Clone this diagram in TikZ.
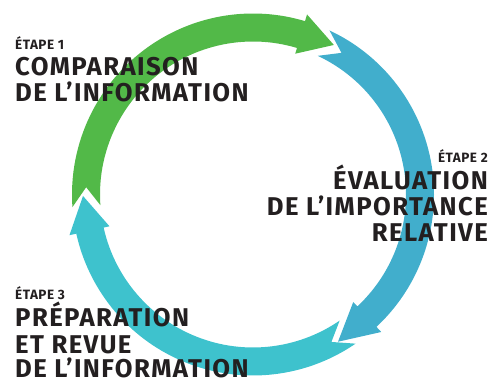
\documentclass[tikz,border=0pt]{standalone}
\usepackage{fontspec}
\setmainfont{Fira Sans}
\definecolor{vertcycle}{HTML}{52B948}
\definecolor{bleucycle}{HTML}{41AECC}
\definecolor{turqcycle}{HTML}{3EC2CD}
\definecolor{encre}{HTML}{231F20}
% one curved arrow of the cycle: colour, tail, notch, head base, tip (degrees)
\newcommand{\flechecycle}[5]{%
  \fill[#1] (#2:181) arc[start angle=#2, end angle=#4, radius=181]
    -- (#4:188) -- (#5:170) -- (#4:147)
    -- (#4:153) arc[start angle=#4, end angle=#2, radius=153]
    -- (#3:167) -- cycle;}
\begin{document}
\begin{tikzpicture}[x=1pt,y=1pt,
  etape/.style={font=\bfseries\fontsize{13.5}{14}\selectfont\addfontfeatures{LetterSpace=4}, text=encre, inner sep=0pt},
  titre/.style={font=\bfseries\fontsize{25.7}{26}\selectfont\addfontfeatures{LetterSpace=5.5}, text=encre, inner sep=0pt}]
  \useasboundingbox (0,0) rectangle (496,379);

  % Draw the three arrows round the cycle
  \begin{scope}[shift={(253,184.5)}]
    \flechecycle{vertcycle}{184}{177.5}{73.3}{61.6}
    \flechecycle{bleucycle}{65}{58}{-47}{-60}
    \flechecycle{turqcycle}{-55.5}{-62}{-167.5}{-179.5}
  \end{scope}

  % Draw step 1 text
  \node[etape, anchor=base west] (etapeun) at (15,329) {ÉTAPE 1};
  \node[titre, anchor=base west] (titreun) at (15,303) {COMPARAISON};
  \node[titre, anchor=base west] (titreunb) at (15,277.3) {DE L’INFORMATION};

  % Draw step 2 text
  \node[etape, anchor=base east] (etapedeux) at (488,216.3) {ÉTAPE 2};
  \node[titre, anchor=base east] (titredeux) at (488,189) {ÉVALUATION};
  \node[titre, anchor=base east] (titredeuxb) at (488,163) {DE L’IMPORTANCE};
  \node[titre, anchor=base east] (titredeuxc) at (488,137.3) {RELATIVE};

  % Draw step 3 text
  \node[etape, anchor=base west] (etapetrois) at (15,79.7) {ÉTAPE 3};
  \node[titre, anchor=base west] (titretrois) at (15,52.3) {PRÉPARATION};
  \node[titre, anchor=base west] (titretroisb) at (15,25.7) {ET REVUE};
  \node[titre, anchor=base west] (titretroisc) at (15,1.2) {DE L’INFORMATION};
\end{tikzpicture}
\end{document}
